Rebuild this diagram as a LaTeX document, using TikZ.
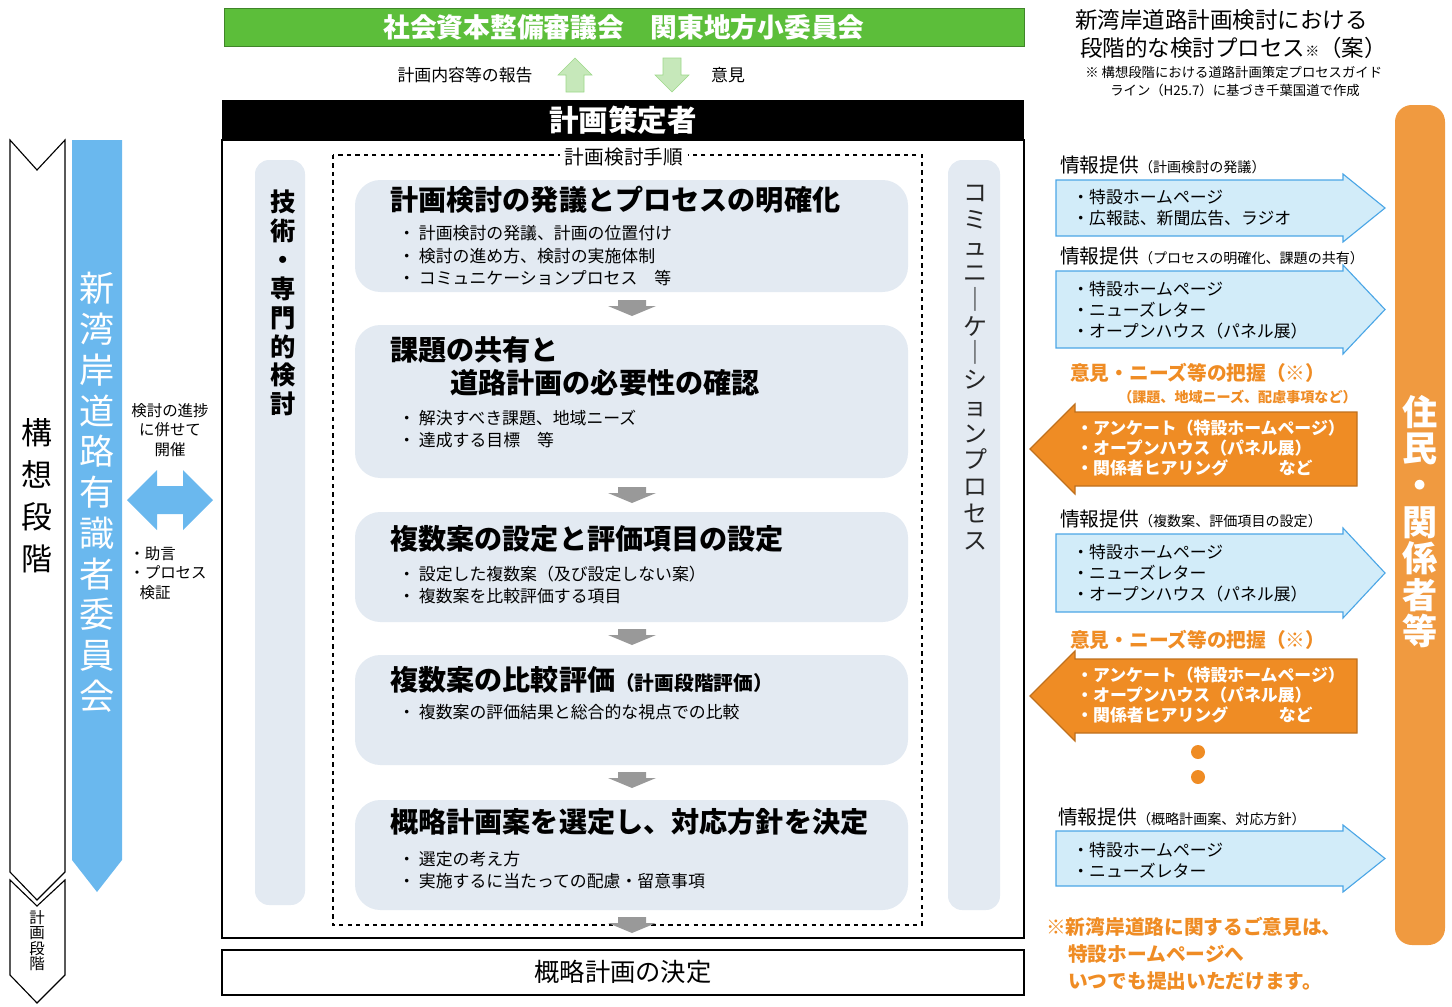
\documentclass[tikz,border=0pt]{standalone}
\usepackage{fontspec}
\setmainfont{Noto Sans CJK JP}
\usetikzlibrary{positioning}
\definecolor{cgreen}{HTML}{5CBE3A}
\definecolor{cblue}{HTML}{6AB8EE}
\definecolor{cpale}{HTML}{E3EAF2}
\definecolor{cinfo}{HTML}{D2ECF9}
\definecolor{cinfoline}{HTML}{4BA6E6}
\definecolor{corange}{HTML}{EF8C24}
\definecolor{cbar}{HTML}{F09A40}
\newcommand{\fs}[1]{\fontsize{#1}{#1}\selectfont}
\tikzset{
    procbox/.style={
           fill=cpale, rounded corners=18pt,
           },
    sidebar/.style={
           fill=cpale, rounded corners=10pt,
           },
    title/.style={
           anchor=west, inner sep=0pt, font=\fs{20}\bfseries,
           },
    item/.style={
           anchor=west, inner sep=0pt, font=\fs{12}, align=left,
           },
    vtext/.style={
           anchor=north, inner sep=0pt, align=center,
           },
    infoarrow/.style={
           fill=cinfo, draw=cinfoline, thick,
           },
    opinionarrow/.style={
           fill=corange, draw=corange!80!black, thick,
           },
    flowarrow/.style={
           fill=black!40,
           },
}
% right arrow: x1, x2, ytop, ybot
\newcommand{\rarr}[4]{\draw[infoarrow] (#1,{#3+6}) -- ({#2-42},{#3+6}) -- ({#2-42},#3) -- (#2,{(#3+#4)/2}) -- ({#2-42},#4) -- ({#2-42},{#4-6}) -- (#1,{#4-6}) -- cycle;}
% left arrow: x1, x2, ytop, ybot
\newcommand{\larr}[4]{\draw[opinionarrow] (#2,{#3+8}) -- ({#1+45},{#3+8}) -- ({#1+45},#3) -- (#1,{(#3+#4)/2}) -- ({#1+45},#4) -- ({#1+45},{#4-8}) -- (#2,{#4-8}) -- cycle;}
% small flow arrow at y
\newcommand{\farr}[1]{\fill[flowarrow] (618,#1) -- (646,#1) -- (646,{#1+6}) -- (656,{#1+6}) -- (632,{#1+16}) -- (608,{#1+6}) -- (618,{#1+6}) -- cycle;}
\begin{document}
\begin{tikzpicture}[x=0.025cm, y=-0.025cm]
	\useasboundingbox (0,0) rectangle (1452,1006);
	
	% committee
	\node[fill=cgreen, draw=cgreen!70!black, minimum width=800*0.025cm, minimum height=38*0.025cm, text=white, font=\fs{19}\bfseries] (council) at (624,27) {社会資本整備審議会　関東地方小委員会};
	\draw[fill=cgreen!35, draw=cgreen!60] (566,92) -- (566,75) -- (558,75) -- (575,58) -- (592,75) -- (584,75) -- (584,92) -- cycle;
	\draw[fill=cgreen!35, draw=cgreen!60] (663,58) -- (681,58) -- (681,75) -- (689,75) -- (672,92) -- (655,75) -- (663,75) -- cycle;
	\node[font=\fs{12}] (report) at (465,75) {計画内容等の報告};
	\node[font=\fs{12}] (opinion) at (728,75) {意見};
	
	% planner
	\node[fill=black, minimum width=802*0.025cm, minimum height=40*0.025cm, text=white, font=\fs{21}\bfseries] (planner) at (623,120) {計画策定者};
	\draw[thick] (222,140) rectangle (1024,938);
	\draw[dashed, thick] (333,155) rectangle (922,925);
	\node[fill=white, font=\fs{14}] (steps) at (624,157) {計画検討手順};
	
	\fill[sidebar] (255,160) rectangle (305,905);
	\node[vtext, font=\fontsize{18}{20.5}\selectfont\bfseries] (tech) at (283,190) {技\\術\\・\\専\\門\\的\\検\\討};
	\fill[sidebar] (948,160) rectangle (1000,910);
	\node[vtext, font=\fontsize{17}{19}\selectfont, text=black!85] (comm) at (975,185) {コ\\ミ\\ュ\\ニ\\｜\\ケ\\｜\\シ\\ョ\\ン\\プ\\ロ\\セ\\ス};
	
	% process boxes
	\fill[procbox] (355,180) rectangle (908,292);
	\node[title] (t1) at (390,200) {計画検討の発議とプロセスの明確化};
	\node[item] (i1) at (398,256) {・\ 計画検討の発議、計画の位置付け\\[4pt]・\ 検討の進め方、検討の実施体制\\[4pt]・\ コミュニケーションプロセス　等};
	\farr{300}
	\fill[procbox] (355,325) rectangle (908,478);
	\node[title] (t2a) at (390,350) {課題の共有と};
	\node[title] (t2b) at (450,383) {道路計画の必要性の確認};
	\node[item] (i2) at (398,429) {・\ 解決すべき課題、地域ニーズ\\[4pt]・\ 達成する目標　等};
	\farr{487}
	\fill[procbox] (355,512) rectangle (908,622);
	\node[title] (t3) at (390,539) {複数案の設定と評価項目の設定};
	\node[item] (i3) at (398,585) {・\ 設定した複数案（及び設定しない案）\\[4pt]・\ 複数案を比較評価する項目};
	\farr{629}
	\fill[procbox] (355,655) rectangle (908,765);
	\node[title] (t4) at (390,680) {複数案の比較評価{\fs{14}（計画段階評価）}};
	\node[item] (i4) at (398,712) {・\ 複数案の評価結果と総合的な視点での比較};
	\farr{772}
	\fill[procbox] (355,800) rectangle (908,910);
	\node[title] (t5) at (390,822) {概略計画案を選定し、対応方針を決定};
	\node[item] (i5) at (398,870) {・\ 選定の考え方\\[4pt]・\ 実施するに当たっての配慮・留意事項};
	\farr{917}
	
	\draw[thick] (222,950) rectangle (1024,995);
	\node[font=\fs{18}] (decision) at (623,972) {概略計画の決定};
	
	% left stages
	\draw[thick, fill=white] (10,140) -- (37,170) -- (65,140) -- (65,872) -- (37,900) -- (10,872) -- cycle;
	\node[vtext, font=\fontsize{22}{30}\selectfont] (concept) at (37,418) {構\\想\\段\\階};
	\draw[thick, fill=white] (10,880) -- (37,906) -- (65,880) -- (65,975) -- (37,1003) -- (10,975) -- cycle;
	\node[vtext, font=\fs{11}] (plan) at (37,910) {計\\画\\段\\階};
	\fill[cblue] (72,140) rectangle (122,860) -- (122,860) -- (97,892) -- (72,860) -- cycle;
	\node[vtext, font=\fontsize{25}{29}\selectfont, text=white] (expert) at (97,272) {新\\湾\\岸\\道\\路\\有\\識\\者\\委\\員\\会};
	\fill[cblue] (127,500) -- (157,470) -- (157,486) -- (183,486) -- (183,470) -- (213,500) -- (183,530) -- (183,514) -- (157,514) -- (157,530) -- cycle;
	\node[font=\fs{11}, align=center] (held) at (170,430) {検討の進捗\\[3pt]に併せて\\[3pt]開催};
	\node[font=\fs{11}, align=left] (advice) at (168,573) {・助言\\[3pt]・プロセス\\[3pt]\ \ \ 検証};
	
	% right side
	\node[anchor=west, font=\fs{16}, inner sep=0pt] (rt1) at (1075,20) {新湾岸道路計画検討における};
	\node[anchor=west, font=\fs{16}, inner sep=0pt] (rt2) at (1080,48) {段階的な検討プロセス{\fs{10}※}（案）};
	\node[anchor=west, font=\fs{9.5}, inner sep=0pt] (rt3) at (1085,72) {※ 構想段階における道路計画策定プロセスガイド};
	\node[anchor=west, font=\fs{9.5}, inner sep=0pt] (rt4) at (1110,90) {ライン（H25.7）に基づき千葉国道で作成};
	\fill[cbar, rounded corners=12pt] (1395,105) rectangle (1445,945);
	\node[vtext, font=\fontsize{25}{26}\selectfont\bfseries, text=white] (residents) at (1420,395) {住\\民\\・\\関\\係\\者\\等};
	
	\node[item, font=\fs{14}] (p1) at (1060,165) {情報提供{\fs{10}（計画検討の発議）}};
	\rarr{1056}{1385}{174}{242}
	\node[item] (a1) at (1072,208) {・特設ホームページ\\[3pt]・広報誌、新聞広告、ラジオ};
	\node[item, font=\fs{14}] (p2) at (1060,256) {情報提供{\fs{10}（プロセスの明確化、課題の共有）}};
	\rarr{1056}{1385}{265}{354}
	\node[item] (a2) at (1072,310) {・特設ホームページ\\[3pt]・ニューズレター\\[3pt]・オープンハウス（パネル展）};
	\node[item, font=\fs{14}\bfseries, text=corange] (o1) at (1070,373) {意見・ニーズ等の把握（※）};
	\node[item, font=\fs{10}\bfseries, text=corange] (o1s) at (1118,397) {（課題、地域ニーズ、配慮事項など）};
	\larr{1030}{1357}{404}{494}
	\node[item, text=white, font=\fs{12}\bfseries] (b1) at (1076,448) {・アンケート（特設ホームページ）\\[2pt]・オープンハウス（パネル展）\\[2pt]・関係者ヒアリング　　　など};
	\node[item, font=\fs{14}] (p3) at (1060,519) {情報提供{\fs{10}（複数案、評価項目の設定）}};
	\rarr{1056}{1385}{528}{618}
	\node[item] (a3) at (1072,573) {・特設ホームページ\\[3pt]・ニューズレター\\[3pt]・オープンハウス（パネル展）};
	\node[item, font=\fs{14}\bfseries, text=corange] (o2) at (1070,640) {意見・ニーズ等の把握（※）};
	\larr{1030}{1357}{651}{741}
	\node[item, text=white, font=\fs{12}\bfseries] (b2) at (1076,695) {・アンケート（特設ホームページ）\\[2pt]・オープンハウス（パネル展）\\[2pt]・関係者ヒアリング　　　など};
	\fill[corange] (1198,752) circle (7) (1198,777) circle (7);
	\node[item, font=\fs{14}] (p4) at (1058,817) {情報提供{\fs{10}（概略計画案、対応方針）}};
	\rarr{1056}{1385}{825}{892}
	\node[item] (a4) at (1072,860) {・特設ホームページ\\[3pt]・ニューズレター};
	\node[item, font=\fs{14}\bfseries, text=corange] (n1) at (1046,927) {※新湾岸道路に関するご意見は、};
	\node[item, font=\fs{14}\bfseries, text=corange] (n2) at (1068,954) {特設ホームページへ};
	\node[item, font=\fs{14}\bfseries, text=corange] (n3) at (1068,981) {いつでも提出いただけます。};
\end{tikzpicture}
\end{document}
